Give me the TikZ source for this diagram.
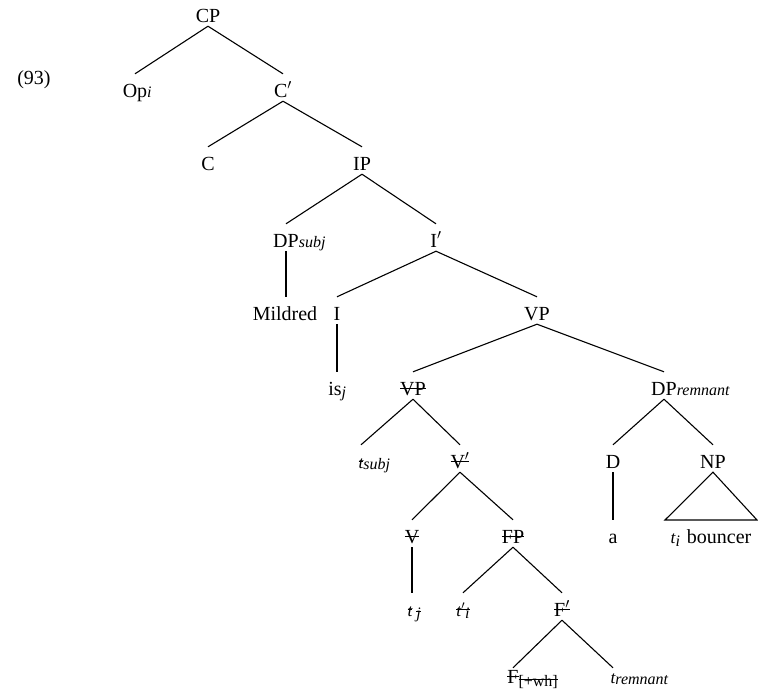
\documentclass[tikz,border=0pt]{standalone}
\usepackage{fontspec}
\setmainfont{Liberation Serif}
\newsavebox\strkbox
\newcommand\strk[1]{\sbox\strkbox{#1}\rlap{\rule[0.3em]{\wd\strkbox}{0.8pt}}\usebox\strkbox}
\newcommand\sub[1]{{\fontsize{16}{16}\selectfont\itshape #1}}
\newcommand\subup[1]{{\fontsize{16}{16}\selectfont #1}}
\newcommand\tf{\fontsize{17.5}{17.5}\selectfont\itshape}
\begin{document}
\begin{tikzpicture}[x=1pt,y=-1pt,
  n/.style={anchor=base,inner sep=0pt,text height=23pt,text depth=4pt,font=\fontsize{20}{22}\selectfont},
  edge/.style={line width=1.1pt}]
\useasboundingbox (0,0) rectangle (758,697);
\node[n] (ex) at (34,84) {(93)};
% row 1
\node[n] (cp) at (208,22) {CP};
% row 2
\node[n] (op) at (135,97) {Op\rlap{\sub{i}}};
\node[n] (cbar) at (283,97) {C$'$};
% row 3
\node[n] (c) at (208,170) {C};
\node[n] (ip) at (362,170) {IP};
% row 4
\node[n] (dpsubj) at (286,247) {DP\rlap{\sub{subj}}};
\node[n] (ibar) at (436,247) {I$'$};
% row 5
\node[n] (mil) at (285,320) {Mildred};
\node[n] (i) at (337,320) {I};
\node[n] (vp) at (537,320) {VP};
% row 6
\node[n] (isj) at (335,395) {is\rlap{\raisebox{-2pt}{\sub{j}}}};
\node[n] (vp2) at (413,395) {\strk{VP}};
\node[n] (dprem) at (664,395) {DP\rlap{\sub{remnant}}};
% row 7
\node[n] (tsubj) at (361,468) {\strk{\tf t}\rlap{\raisebox{-1pt}{\sub{subj}}}};
\node[n] (vbar) at (460,468) {\strk{V$'$}};
\node[n] (d) at (613,468) {D};
\node[n] (np) at (713,468) {NP};
% row 8
\node[n] (v) at (412,543) {\strk{V}};
\node[n] (fp) at (513,543) {\strk{FP}};
\node[n] (a) at (613,543) {a};
\node[n] (bouncer) at (711,543) {{\tf t}\raisebox{-3pt}{\sub{i}}\hspace{7pt}bouncer};
% row 9
\node[n] (tj) at (410,616) {\strk{\tf t}\rlap{\hspace{4pt}\raisebox{-2pt}{\strk{\sub{j}}}}};
\node[n] (tpi) at (463,616) {\strk{{\tf t$'$}\raisebox{-2pt}{\sub{i}}}};
\node[n] (fbar) at (562,616) {\strk{F$'$}};
% row 10
\node[n] (fwh) at (513,683) {\strk{F}\rlap{\raisebox{-3pt}{\strk{\subup{[+wh]}}}}};
\node[n] (trem) at (613,683) {{\tf t}\rlap{\raisebox{-1pt}{\sub{remnant}}}};
% NP triangle corners
\coordinate (tl) at (665,520);
\coordinate (tr) at (757,520);
% edges
\draw[edge] (cp.south) -- (op.north);
\draw[edge] (cp.south) -- (cbar.north);
\draw[edge] (cbar.south) -- (c.north);
\draw[edge] (cbar.south) -- (ip.north);
\draw[edge] (ip.south) -- (dpsubj.north);
\draw[edge] (ip.south) -- (ibar.north);
\draw[edge] (dpsubj.south) -- (mil.north -| dpsubj.south);
\draw[edge] (ibar.south) -- (i.north);
\draw[edge] (ibar.south) -- (vp.north);
\draw[edge] (i.south) -- (isj.north -| i.south);
\draw[edge] (vp.south) -- (vp2.north);
\draw[edge] (vp.south) -- (dprem.north);
\draw[edge] (vp2.south) -- (tsubj.north);
\draw[edge] (vp2.south) -- (vbar.north);
\draw[edge] (vbar.south) -- (v.north);
\draw[edge] (vbar.south) -- (fp.north);
\draw[edge] (dprem.south) -- (d.north);
\draw[edge] (dprem.south) -- (np.north);
\draw[edge] (d.south) -- (a.north);
\draw[edge] (np.south) -- (tl) -- (tr) -- cycle;
\draw[edge] (v.south) -- (tj.north -| v.south);
\draw[edge] (fp.south) -- (tpi.north);
\draw[edge] (fp.south) -- (fbar.north);
\draw[edge] (fbar.south) -- ([yshift=-8pt]fwh.north);
\draw[edge] (fbar.south) -- ([yshift=-8pt]trem.north);
\end{tikzpicture}
\end{document}
